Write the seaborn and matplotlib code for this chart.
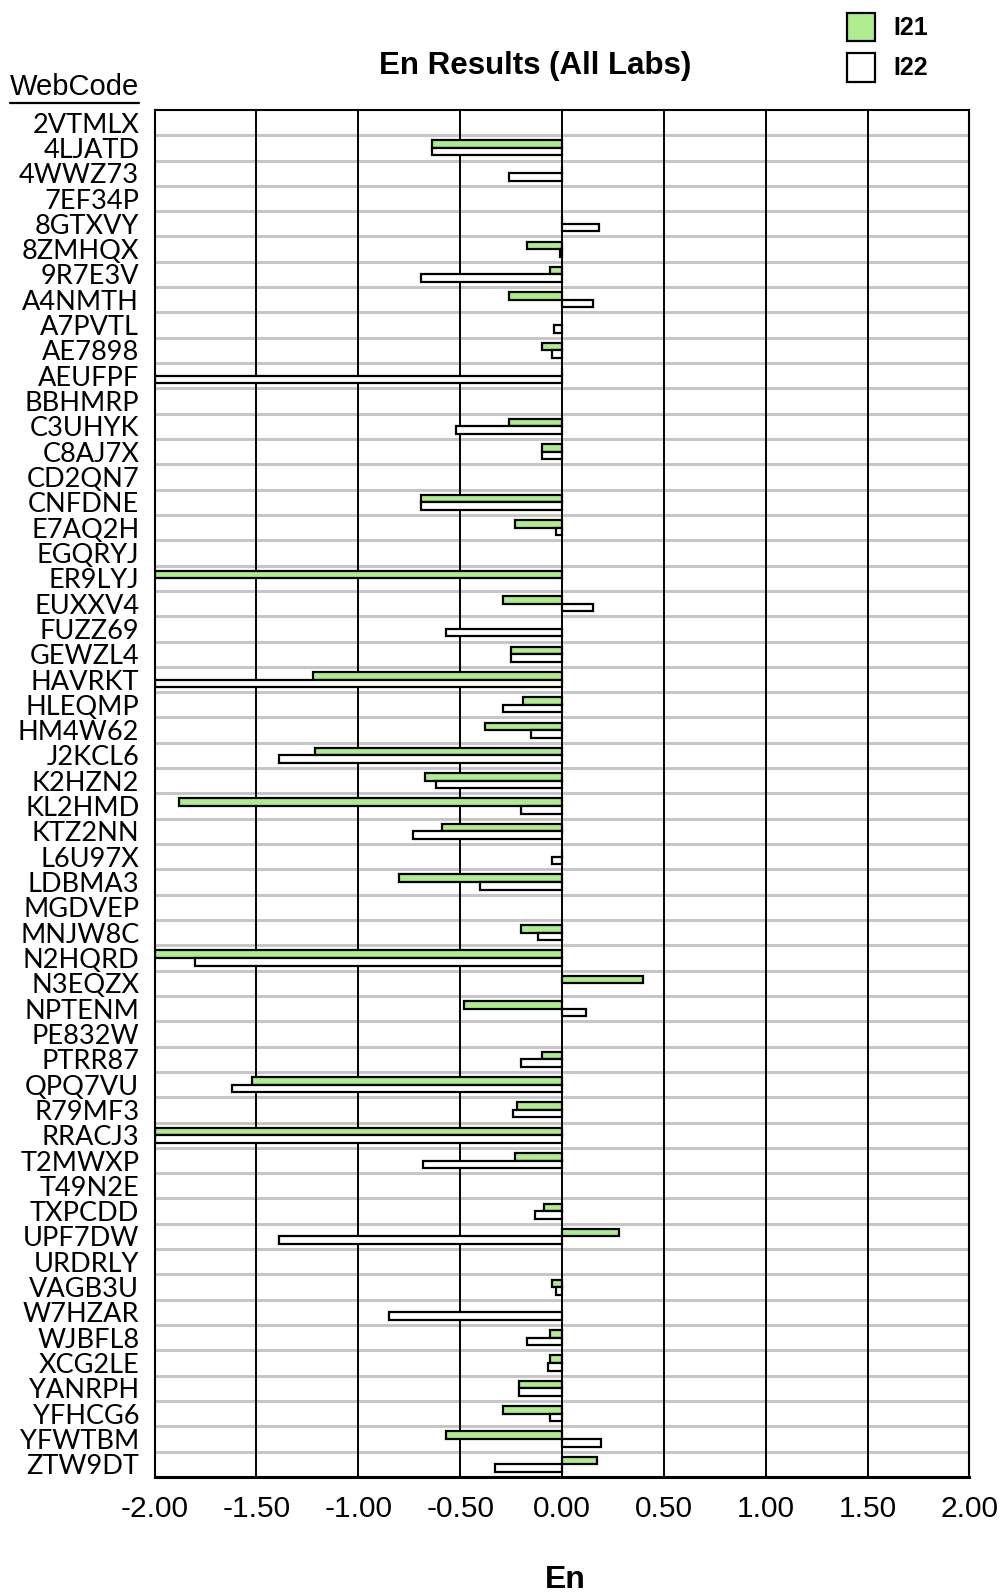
import numpy as np
import pandas as pd
import seaborn as sns
import matplotlib.pyplot as plt
from matplotlib.lines import Line2D

nan = np.nan

codes = ["2VTMLX", "4LJATD", "4WWZ73", "7EF34P", "8GTXVY", "8ZMHQX", "9R7E3V", "A4NMTH",
         "A7PVTL", "AE7898", "AEUFPF", "BBHMRP", "C3UHYK", "C8AJ7X", "CD2QN7", "CNFDNE",
         "E7AQ2H", "EGQRYJ", "ER9LYJ", "EUXXV4", "FUZZ69", "GEWZL4", "HAVRKT", "HLEQMP",
         "HM4W62", "J2KCL6", "K2HZN2", "KL2HMD", "KTZ2NN", "L6U97X", "LDBMA3", "MGDVEP",
         "MNJW8C", "N2HQRD", "N3EQZX", "NPTENM", "PE832W", "PTRR87", "QPQ7VU", "R79MF3",
         "RRACJ3", "T2MWXP", "T49N2E", "TXPCDD", "UPF7DW", "URDRLY", "VAGB3U", "W7HZAR",
         "WJBFL8", "XCG2LE", "YANRPH", "YFHCG6", "YFWTBM", "ZTW9DT"]

# off-scale results (< -2) are shown at the axis limit
i21 = [nan, -0.64, 0.00, nan, 0.00, -0.17, -0.06, -0.26,
       nan, -0.10, 0.00, nan, -0.26, -0.10, nan, -0.69,
       -0.23, nan, -2.00, -0.29, nan, -0.25, -1.22, -0.19,
       -0.38, -1.21, -0.67, -1.88, -0.59, 0.00, -0.80, nan,
       -0.20, -2.00, 0.40, -0.48, nan, -0.10, -1.52, -0.22,
       -2.00, -0.23, nan, -0.09, 0.28, nan, -0.05, nan,
       -0.06, -0.06, -0.21, -0.29, -0.57, 0.17]

i22 = [nan, -0.64, -0.26, nan, 0.18, -0.01, -0.69, 0.15,
       -0.04, -0.05, -2.00, nan, -0.52, -0.10, nan, -0.69,
       -0.03, nan, nan, 0.15, -0.57, -0.25, -2.00, -0.29,
       -0.15, -1.39, -0.62, -0.20, -0.73, -0.05, -0.40, nan,
       -0.12, -1.80, nan, 0.12, nan, -0.20, -1.62, -0.24,
       -2.00, -0.68, nan, -0.13, -1.39, nan, -0.03, -0.85,
       -0.17, -0.07, -0.21, -0.06, 0.19, -0.33]

series = ["I21", "I22"]
colors = {"I21": "#a9fc7d", "I22": "#ffffff"}

df = pd.concat([
    pd.DataFrame({"WebCode": codes, "Series": "I21", "En": i21}),
    pd.DataFrame({"WebCode": codes, "Series": "I22", "En": i22}),
]).dropna()

sns.set_style("white")
plt.rcParams["font.family"] = ["Liberation Sans", "DejaVu Sans"]
plt.rcParams["text.color"] = "black"
plt.rcParams["xtick.color"] = "black"
plt.rcParams["ytick.color"] = "black"

fig = plt.figure(figsize=(10.03, 15.95), dpi=100)
ax = fig.add_axes([0.1541, 0.074, 0.8124, 0.8571])

sns.barplot(data=df, x="En", y="WebCode", hue="Series", order=codes, hue_order=series,
            palette=colors, orient="h", width=0.6, edgecolor="black", linewidth=1.6,
            errorbar=None, ax=ax, zorder=3)

n = len(codes)
ax.hlines(np.arange(n - 1) + 0.5, -2, 2, color="#c6c6c6", lw=2.2, zorder=1)
ax.set_xlim(-2, 2)
ax.set_ylim(n - 0.5, -0.5)
ax.set_xticks(np.arange(-2, 2.01, 0.5))
ax.set_xticklabels([f"{v:.2f}" for v in np.arange(-2, 2.01, 0.5)])
for v in np.arange(-1.5, 2.0, 0.5):
    ax.axvline(v, color="black", lw=1.4, zorder=2)

ax.tick_params(axis="x", length=0, pad=13, labelsize=21.5)
ax.tick_params(axis="y", length=0, pad=11)
for lab in ax.get_yticklabels():
    lab.set_fontfamily("Lato")
    lab.set_fontsize(19.5)
ax.set_xlabel("")
ax.set_ylabel("")
for s in ax.spines.values():
    s.set_color("black")
    s.set_linewidth(1.5)
    s.set_zorder(5)
ax.spines["bottom"].set_linewidth(2.2)

handles, labels = ax.get_legend_handles_labels()
ax.get_legend().remove()
fig.legend(handles, labels, loc="upper left", bbox_to_anchor=(0.832, 1.0),
           frameon=False, prop={"weight": "bold", "size": 18}, handlelength=1.12,
           handleheight=1.4, labelspacing=0.45, handletextpad=0.75, borderpad=0)

fig.text(0.534, 1 - 66 / 1595, "En Results (All Labs)", ha="center", va="center",
         fontsize=22.5, fontweight="bold")
fig.text(0.564, 1 - 1580 / 1595, "En", ha="center", va="center", fontsize=23,
         fontweight="bold")
wc = fig.text(10 / 1003, 1 - 87 / 1595, "WebCode", ha="left", va="center", fontsize=21)

fig.canvas.draw()
bb = wc.get_window_extent().transformed(fig.transFigure.inverted())
fig.add_artist(Line2D([bb.x0, bb.x1], [bb.y0 - 0.001, bb.y0 - 0.001], color="black",
                      lw=1.6, transform=fig.transFigure))

fig.savefig("out.png", dpi=100)
